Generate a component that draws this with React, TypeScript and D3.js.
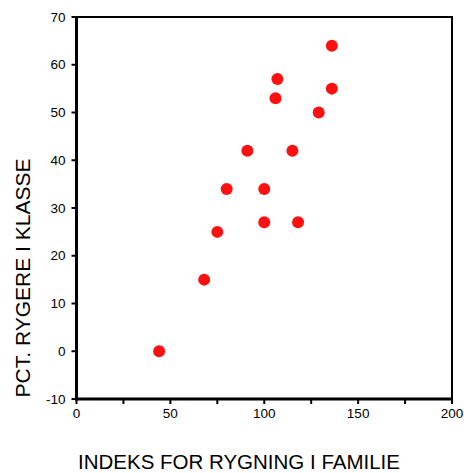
import React from "react";
import * as d3 from "d3";

const xValues = [44, 68, 75, 80, 91, 100, 100, 106, 107, 115, 118, 129, 136, 136];
const yValues = [0, 15, 25, 34, 42, 34, 27, 53, 57, 42, 27, 50, 64, 55];
const xTicksMajor = [0, 50, 100, 150, 200];
const xTicksMinor = [25, 75, 125, 175];
const yTicks = [-10, 0, 10, 20, 30, 40, 50, 60, 70];
const xTitle = "INDEKS FOR RYGNING I FAMILIE";
const yTitle = "PCT. RYGERE I KLASSE";

export default function App() {
  const W = 464, H = 473;
  const left = 76.5, right = 452, top = 17, bottom = 399;
  const x = d3.scaleLinear().domain([0, 200]).range([left, right]);
  const y = d3.scaleLinear().domain([-10, 70]).range([bottom, top]);
  const font = "'Liberation Sans', Arial, sans-serif";
  const pts = xValues.map((v, i) => ({ x: v, y: yValues[i] }));
  return (
    <svg width={W} height={H} style={{ position: "absolute", left: 0, top: 0 }}>
      <rect x={0} y={0} width={W} height={H} fill="#fff" />
      <line x1={left} x2={right + 1} y1={top} y2={top} stroke="#000" strokeWidth={2} />
      <line x1={right} x2={right} y1={top} y2={bottom} stroke="#000" strokeWidth={2} />
      <line x1={left} x2={left} y1={top - 1} y2={bottom + 1.5} stroke="#000" strokeWidth={3} />
      <line x1={left - 1.5} x2={right + 1} y1={bottom} y2={bottom} stroke="#000" strokeWidth={3} />
      {yTicks.map((t) => (
        <g key={"y" + t}>
          <line x1={left - 5} x2={left} y1={y(t)} y2={y(t)} stroke="#000" strokeWidth={2} />
          <text x={left - 11} y={y(t)} dy="0.35em" textAnchor="end" fontFamily={font} fontSize={13.5} fill="#000">
            {t}
          </text>
        </g>
      ))}
      {xTicksMajor.map((t) => (
        <g key={"x" + t}>
          <line x1={x(t)} x2={x(t)} y1={bottom} y2={bottom + 5} stroke="#000" strokeWidth={2} />
          <text x={x(t)} y={bottom + 19} textAnchor="middle" fontFamily={font} fontSize={13.5} fill="#000">
            {t}
          </text>
        </g>
      ))}
      {xTicksMinor.map((t) => (
        <line key={"m" + t} x1={x(t)} x2={x(t)} y1={bottom} y2={bottom + 5} stroke="#000" strokeWidth={2} />
      ))}
      {pts.map((p, i) => (
        <circle key={i} cx={x(p.x)} cy={y(p.y)} r={6} fill="#ff1010" />
      ))}
      <text x={239} y={468.5} textAnchor="middle" fontFamily={font} fontSize={20.5} fill="#000">
        {xTitle}
      </text>
      <text
        transform={`translate(30, ${(top + bottom) / 2 + 70}) rotate(-90)`}
        textAnchor="middle"
        fontFamily={font}
        fontSize={21}
        fill="#000"
      >
        {yTitle}
      </text>
    </svg>
  );
}
